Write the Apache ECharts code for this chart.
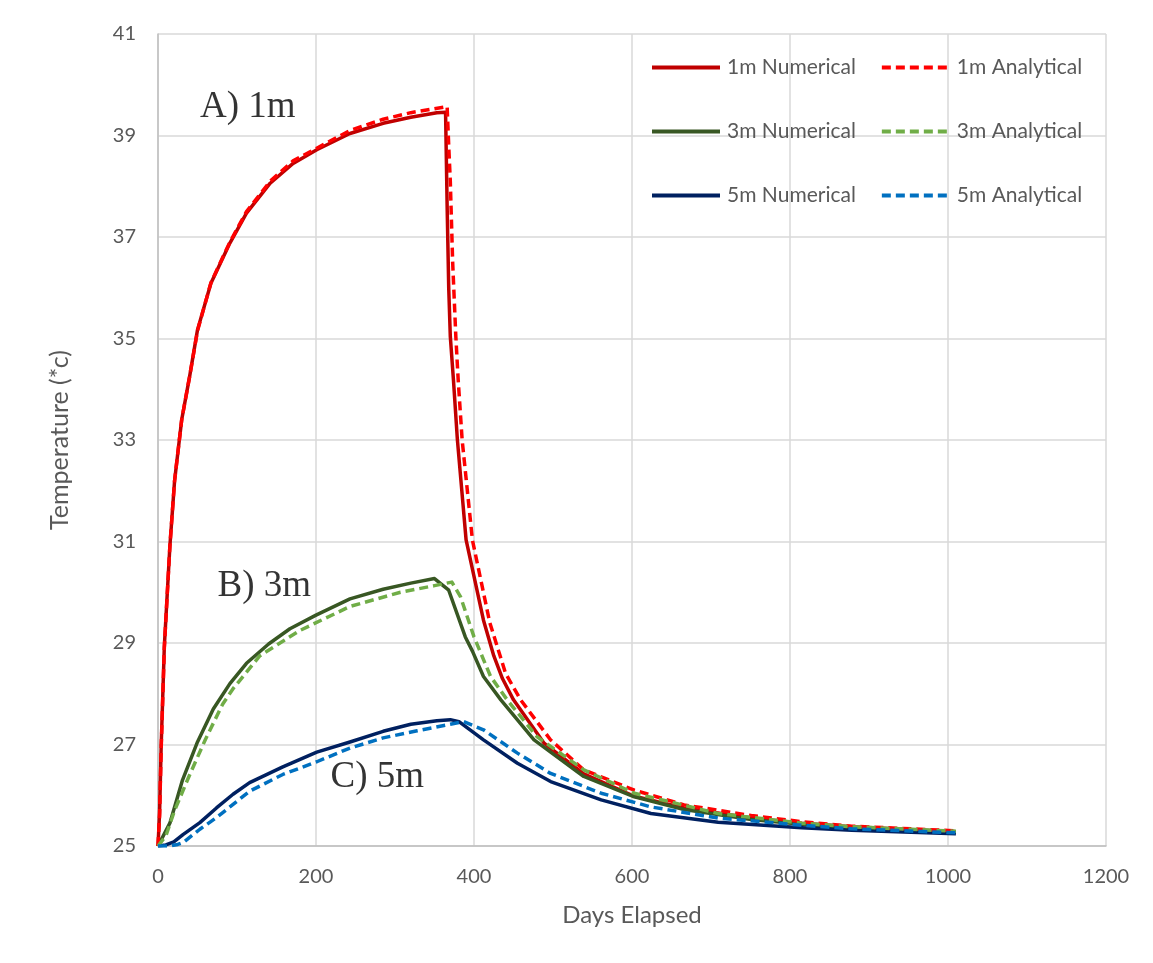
<!DOCTYPE html>
<html>
<head>
<meta charset="utf-8">
<script src="https://cdn.jsdelivr.net/npm/echarts@6/dist/echarts.min.js"></script>
<style>html,body{margin:0;padding:0;background:#fff;}#c{width:1153px;height:963px;}</style>
</head>
<body>
<div id="c"></div>
<script>
const xTicks = [0, 200, 400, 600, 800, 1000, 1200];
const yTicks = [25, 27, 29, 31, 33, 35, 37, 39, 41];

const days1mNum = [0, 2, 4, 8, 15, 21, 30, 40, 50, 67, 91, 112, 142, 171, 201, 243, 285, 320, 353, 364, 366, 368, 370, 374, 379, 390, 412, 425, 436, 450, 489, 539, 603, 666, 751, 815, 878, 1010];
const temp1mNum = [25, 25.65, 26.96, 28.93, 30.9, 32.2, 33.4, 34.25, 35.17, 36.09, 36.88, 37.47, 38.06, 38.45, 38.72, 39.04, 39.24, 39.36, 39.45, 39.46, 37.6, 36.0, 35.04, 34.18, 33.0, 31.03, 29.45, 28.75, 28.3, 27.88, 27.02, 26.42, 25.98, 25.75, 25.55, 25.45, 25.38, 25.28];

const days1mAna = [0, 2, 4, 8, 15, 21, 30, 40, 50, 67, 91, 112, 142, 171, 201, 243, 285, 320, 366, 368, 370, 373, 377, 380, 385, 398, 420, 440, 459, 497, 539, 603, 666, 751, 815, 878, 1010];
const temp1mAna = [25, 25.6, 26.9, 28.9, 30.9, 32.2, 33.4, 34.25, 35.15, 36.1, 36.9, 37.5, 38.1, 38.5, 38.75, 39.1, 39.32, 39.45, 39.57, 38.8, 38.1, 36.5, 35.04, 34.18, 33.0, 31.03, 29.4, 28.4, 27.88, 27.09, 26.5, 26.1, 25.81, 25.6, 25.48, 25.39, 25.3];

const days3mNum = [0, 15, 31, 50, 70, 91, 112, 140, 167, 200, 243, 285, 320, 350, 368, 389, 398, 412, 434, 476, 539, 603, 666, 751, 815, 878, 1010];
const temp3mNum = [25, 25.45, 26.3, 27.05, 27.7, 28.2, 28.6, 28.98, 29.28, 29.55, 29.87, 30.06, 30.18, 30.27, 30.04, 29.12, 28.84, 28.34, 27.88, 27.09, 26.37, 25.97, 25.72, 25.52, 25.43, 25.36, 25.28];

const days3mAna = [0, 10, 21, 40, 60, 82, 95, 129, 180, 243, 307, 350, 372, 383, 400, 421, 442, 480, 539, 603, 709, 815, 878, 1010];
const temp3mAna = [25, 25.2, 25.7, 26.4, 27.1, 27.8, 28.1, 28.75, 29.25, 29.72, 30.0, 30.13, 30.2, 29.91, 29.12, 28.34, 27.88, 27.15, 26.5, 26.04, 25.64, 25.45, 25.38, 25.29];

const days5mNum = [0, 10, 20, 32, 53, 74, 95, 116, 158, 201, 243, 285, 320, 353, 370, 381, 412, 455, 497, 561, 624, 709, 815, 878, 1010];
const temp5mNum = [25, 25.02, 25.08, 25.23, 25.46, 25.75, 26.02, 26.25, 26.56, 26.85, 27.05, 27.26, 27.4, 27.47, 27.49, 27.45, 27.09, 26.63, 26.27, 25.91, 25.64, 25.47, 25.36, 25.31, 25.24];

const days5mAna = [0, 15, 25, 32, 53, 74, 116, 158, 201, 243, 285, 328, 370, 387, 412, 455, 497, 561, 624, 709, 815, 878, 1010];
const temp5mAna = [25, 25.0, 25.03, 25.07, 25.33, 25.56, 26.08, 26.41, 26.66, 26.93, 27.13, 27.27, 27.4, 27.45, 27.29, 26.83, 26.43, 26.04, 25.77, 25.55, 25.41, 25.34, 25.26];

const seriesNames = ['1m Numerical', '1m Analytical', '3m Numerical', '3m Analytical', '5m Numerical', '5m Analytical'];
const seriesColors = ['#c00000', '#ff0000', '#385723', '#70ad47', '#002060', '#0070c0'];
const seriesDashed = [false, true, false, true, false, true];
const seriesDays = [days1mNum, days1mAna, days3mNum, days3mAna, days5mNum, days5mAna];
const seriesTemps = [temp1mNum, temp1mAna, temp3mNum, temp3mAna, temp5mNum, temp5mAna];

const annoText = ['A) 1m', 'B) 3m', 'C) 5m'];
const annoDay = [113.6, 134.6, 277.5];
const annoTemp = [39.56, 30.12, 26.36];

const FONT = 'Lato';
const chart = echarts.init(document.getElementById('c'), null, {renderer: 'canvas'});

const series = seriesNames.map((n, i) => ({
  name: n,
  type: 'line',
  data: seriesDays[i].map((d, j) => [d, seriesTemps[i][j]]),
  showSymbol: false,
  symbol: 'none',
  smooth: false,
  z: seriesDashed[i] ? 3 : 2,
  lineStyle: {
    color: seriesColors[i],
    width: 3.5,
    type: seriesDashed[i] ? [9, 5] : 'solid',
    cap: 'butt',
    join: 'round'
  },
  itemStyle: {color: seriesColors[i]},
  emphasis: {disabled: true}
}));

series.push({
  type: 'scatter',
  name: 'anno',
  data: annoDay.map((d, i) => ({value: [d, annoTemp[i]], label: {formatter: annoText[i]}})),
  symbolSize: 0,
  silent: true,
  label: {
    show: true,
    position: 'inside',
    fontFamily: 'Liberation Serif',
    fontSize: 37,
    color: '#000000',
    textBorderWidth: 0
  },
  z: 5
});

const legendRows = [[0, 1], [2, 3], [4, 5]];
const legendTops = [52, 116, 180];
const legends = legendRows.map((r, k) => ({
  data: r.map(i => seriesNames[i]),
  left: 645,
  top: legendTops[k],
  orient: 'horizontal',
  itemWidth: 68,
  itemHeight: 22,
  itemGap: 24,
  selectedMode: false,
  itemStyle: {opacity: 0, borderWidth: 0},
  lineStyle: {width: 4},
  textStyle: {fontFamily: FONT, fontSize: 21, color: '#595959', padding: [0, 0, 0, 2]}
}));

chart.setOption({
  animation: false,
  backgroundColor: '#fff',
  grid: {left: 158, right: 47, top: 34, bottom: 117, containLabel: false},
  legend: legends,
  xAxis: {
    type: 'value',
    min: 0, max: 1200, interval: 200,
    name: 'Days Elapsed',
    nameLocation: 'middle',
    nameGap: 57,
    nameTextStyle: {fontFamily: FONT, fontSize: 24, color: '#595959'},
    axisLine: {show: true, lineStyle: {color: '#bfbfbf', width: 1.5}},
    axisTick: {show: false},
    axisLabel: {fontFamily: FONT, fontSize: 20, color: '#595959', margin: 21, formatter: v => String(v)},
    splitLine: {show: true, lineStyle: {color: '#d9d9d9', width: 1.5}}
  },
  yAxis: {
    type: 'value',
    min: 25, max: 41, interval: 2,
    name: 'Temperature (*c)',
    nameLocation: 'middle',
    nameGap: 86,
    nameTextStyle: {fontFamily: FONT, fontSize: 25, color: '#595959'},
    axisLine: {show: true, lineStyle: {color: '#bfbfbf', width: 1.5}},
    axisTick: {show: false},
    axisLabel: {fontFamily: FONT, fontSize: 20, color: '#595959', margin: 22},
    splitLine: {show: true, lineStyle: {color: '#d9d9d9', width: 1.5}}
  },
  series: series
});
</script>
</body>
</html>
